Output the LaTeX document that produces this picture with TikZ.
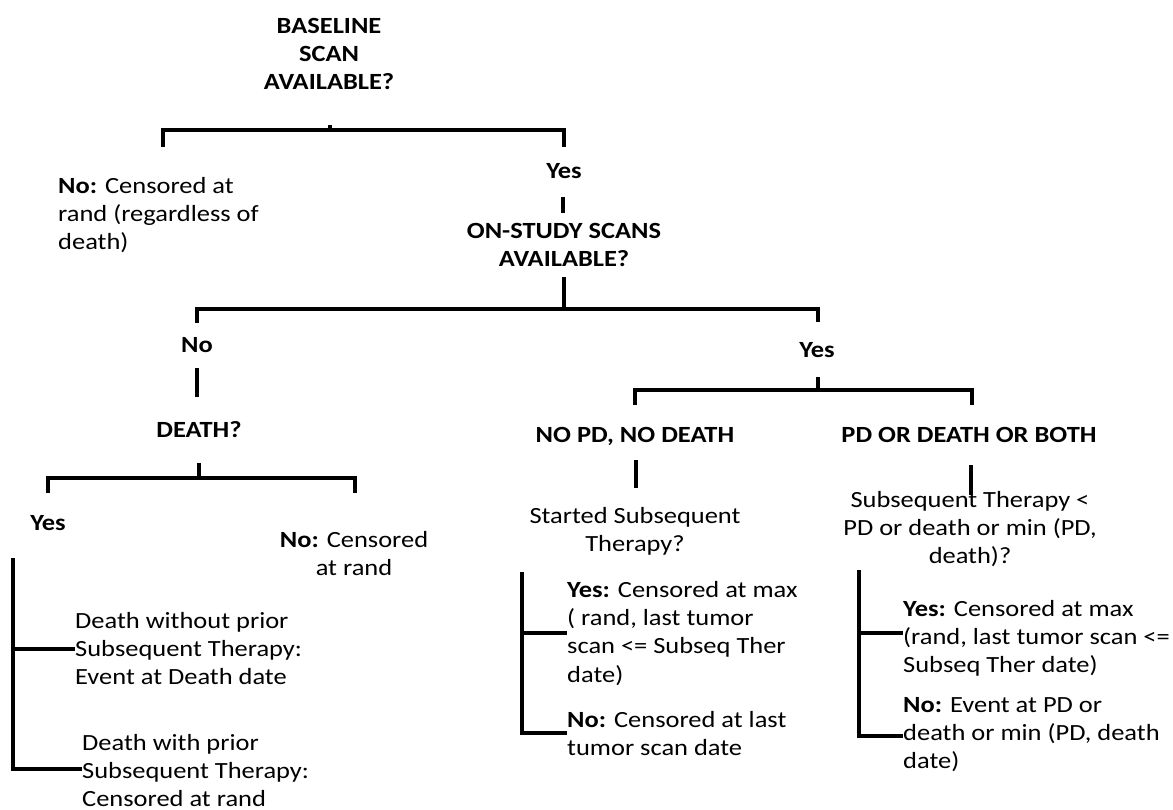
\documentclass[tikz,border=0pt]{standalone}
\usepackage{fontspec}
\setmainfont{Carlito}[FakeStretch=1.14]
\newcommand\fs{\fontsize{23.2pt}{28.3pt}\selectfont}
\newcommand\fl{\rule{0pt}{20pt}}
\begin{document}
\begin{tikzpicture}[x=1pt,y=-1pt,
  txt/.style={inner sep=0pt,font=\fs},
  lft/.style={txt,anchor=north west,align=left},
  ctr/.style={txt,anchor=north,align=center},
  bctr/.style={ctr,font=\fs\bfseries},
  conn/.style={line width=4pt,line join=miter,line cap=butt}]
\path[use as bounding box] (0,0) rectangle (1173,810);

% texts
\node[bctr] (q1) at (329,13) {\fl BASELINE\\SCAN\\AVAILABLE?};
\node[lft] (no1) at (58,173) {\fl\textbf{No:} Censored at\\rand (regardless of\\death)};
\node[bctr] (yes1) at (564,158) {\fl Yes};
\node[bctr] (q2) at (564,218) {\fl ON-STUDY SCANS\\AVAILABLE?};
\node[bctr] (no2) at (197,332) {\fl No};
\node[bctr] (yes2) at (817,337) {\fl Yes};
\node[bctr] (q3) at (199,417) {\fl DEATH?};
\node[bctr] (nopd) at (635,422) {\fl NO PD, NO DEATH};
\node[bctr] (pd) at (969,422) {\fl PD OR DEATH OR BOTH};
\node[bctr] (yes3) at (48,510) {\fl Yes};
\node[ctr] (no3) at (354,527) {\fl\textbf{No:} Censored\\at rand};
\node[lft] (d1) at (75,608) {\fl Death without prior\\Subsequent Therapy:\\Event at Death date};
\node[lft] (d2) at (82,730) {\fl Death with prior\\Subsequent Therapy:\\Censored at rand};
\node[ctr] (q4) at (635,503) {\fl Started Subsequent\\Therapy?};
\node[lft] (y4) at (567,577) {\fl\textbf{Yes:} Censored at max\\( rand, last tumor\\scan <= Subseq Ther\\date)};
\node[lft] (n4) at (567,707) {\fl\textbf{No:} Censored at last\\tumor scan date};
\node[ctr] (q5) at (970,487) {\fl Subsequent Therapy <\\PD or death or min (PD,\\death)?};
\node[lft] (y5) at (903,596) {\fl\textbf{Yes:} Censored at max\\(rand, last tumor scan <=\\Subseq Ther date)};
\node[lft] (n5) at (903,692) {\fl\textbf{No:} Event at PD or\\death or min (PD, death\\date)};

% connector points
\coordinate (t1) at (330,125);
\coordinate (j1) at (330,130);
\coordinate (l1) at (163,147);
\coordinate (r1) at (564,147);
\coordinate (s1a) at (563,197);
\coordinate (s1b) at (563,213);
\coordinate (t2) at (564,277);
\coordinate (j2) at (564,309);
\coordinate (l2) at (197,323);
\coordinate (r2) at (818,322);
\coordinate (s2a) at (197,368);
\coordinate (s2b) at (197,397);
\coordinate (t3) at (199,463);
\coordinate (j3) at (199,478);
\coordinate (l3) at (48,493);
\coordinate (r3) at (355,493);
\coordinate (t4) at (818,377);
\coordinate (j4) at (818,390);
\coordinate (l4) at (635,405);
\coordinate (r4) at (972,405);
\coordinate (s4a) at (636,460);
\coordinate (s4b) at (636,488);
\coordinate (s5a) at (971,465);
\coordinate (s5b) at (971,495);
\coordinate (va) at (13,558);
\coordinate (vb) at (13,773);
\coordinate (vm) at (13,649);
\coordinate (ma) at (522,572);
\coordinate (mb) at (522,733);
\coordinate (mm) at (522,633);
\coordinate (ra) at (859,570);
\coordinate (rb) at (859,736);
\coordinate (rm) at (859,633);

% connectors
\draw[conn] (t1) -- (j1);
\draw[conn] (l1) |- (j1) -| (r1);
\draw[conn] (s1a) -- (s1b);
\draw[conn] (t2) -- (j2);
\draw[conn] (l2) |- (j2) -| (r2);
\draw[conn] (s2a) -- (s2b);
\draw[conn] (t3) -- (j3);
\draw[conn] (l3) |- (j3) -| (r3);
\draw[conn] (t4) -- (j4);
\draw[conn] (l4) |- (j4) -| (r4);
\draw[conn] (s4a) -- (s4b);
\draw[conn] (s5a) -- (s5b);
\draw[conn] (va) |- (d2.west);
\draw[conn] (vm) -- (d1.west |- vm);
\draw[conn] (ma) |- (n4.west |- mb);
\draw[conn] (mm) -- (y4.west |- mm);
\draw[conn] (ra) |- (n5.west |- rb);
\draw[conn] (rm) -- (y5.west |- rm);
\end{tikzpicture}
\end{document}
